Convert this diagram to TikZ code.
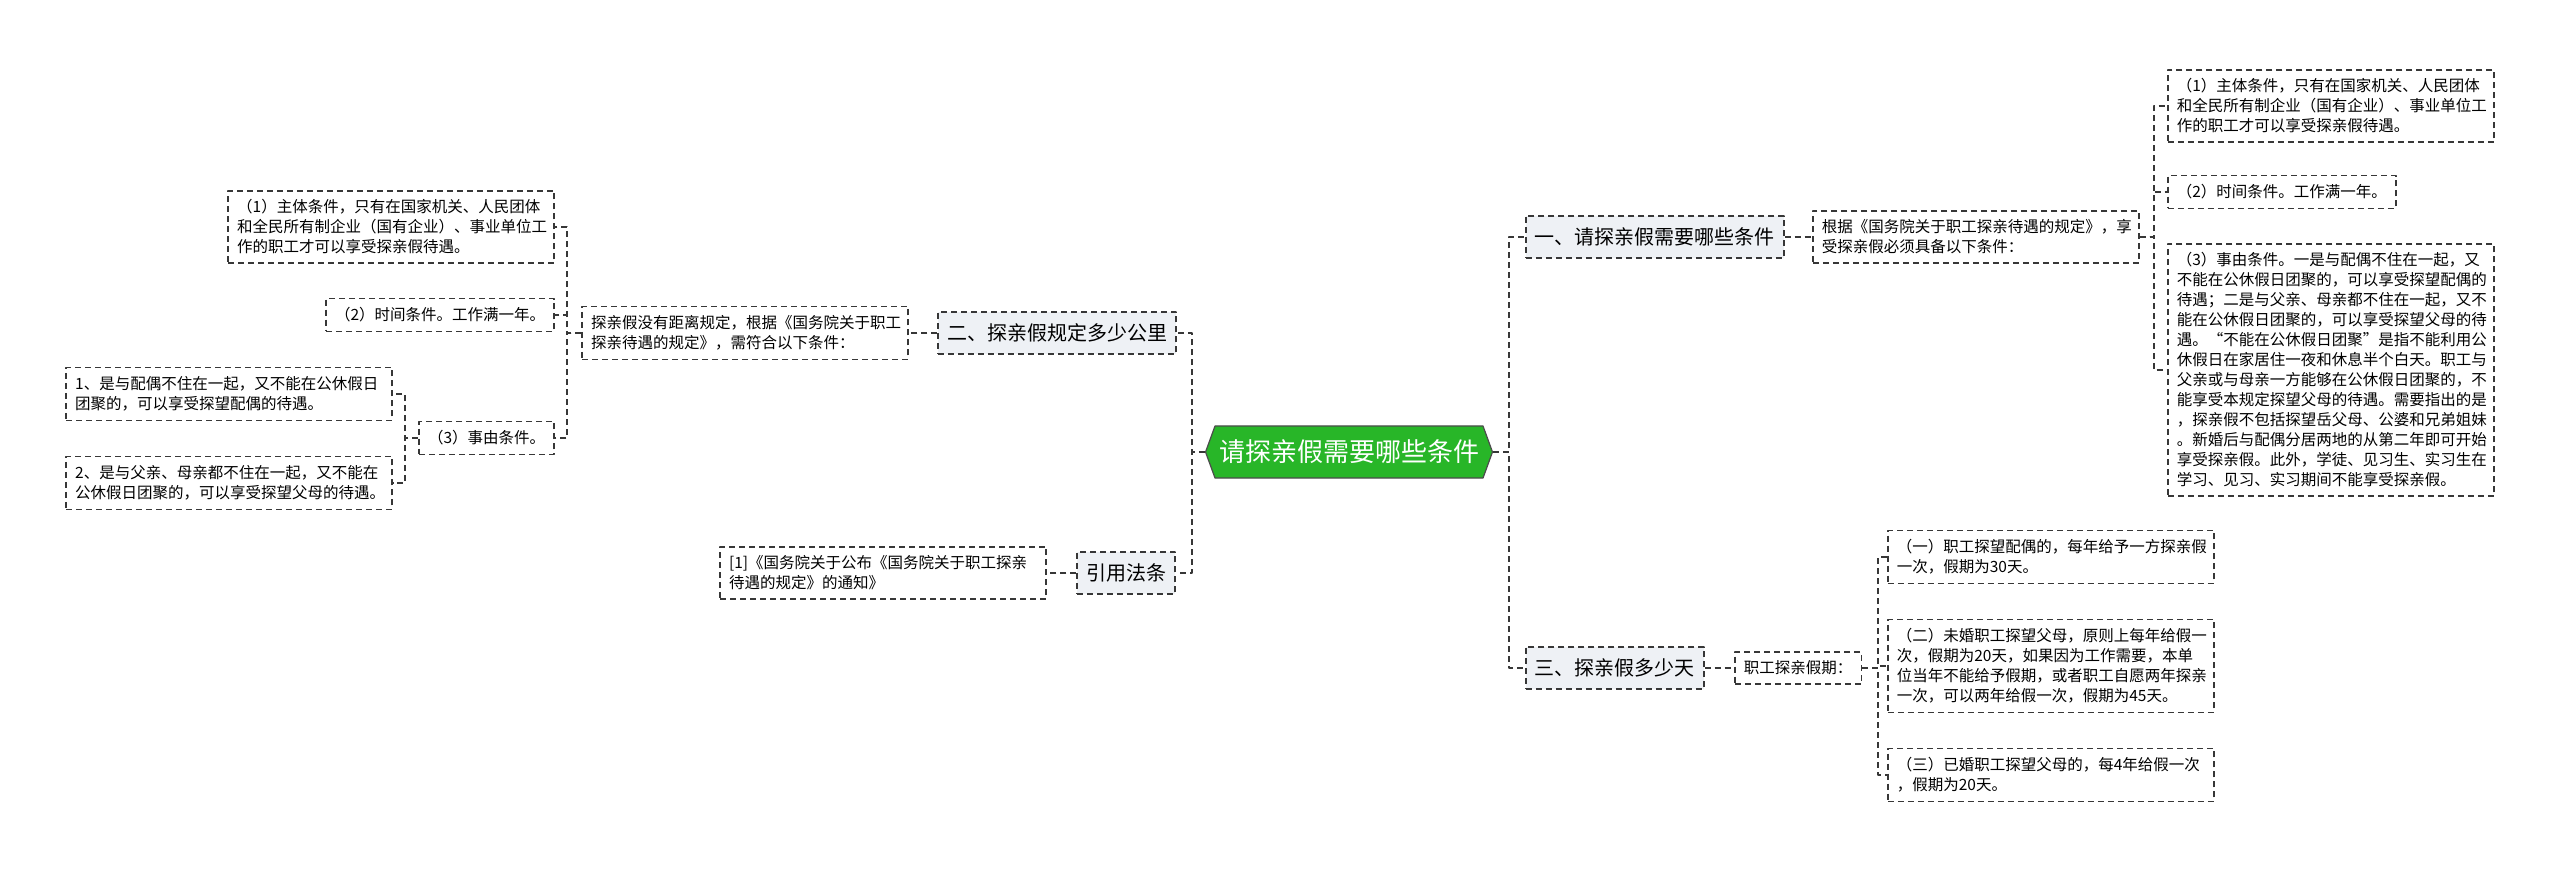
\documentclass[tikz,border=0pt]{standalone}
\usepackage{fontspec}
\newfontfamily\cjk{Noto Sans CJK SC}
\usetikzlibrary{shapes.symbols}
\definecolor{rootgreen}{RGB}{40,182,40}
\definecolor{branchgray}{RGB}{238,241,245}
\definecolor{linegray}{RGB}{55,55,55}
\begin{document}
\begin{tikzpicture}[x=1pt,y=-1pt,line join=round,
	dashline/.style={draw=linegray,line width=1.7pt,dash pattern=on 6pt off 4pt},
	root/.style={signal,signal to=west and east,signal pointer angle=140,fill=rootgreen,draw=black!70,line width=1.2pt,text=white,font=\cjk\fontsize{26}{30}\selectfont,inner xsep=4pt,inner ysep=14pt},
	branch/.style={dashline,fill=branchgray,font=\cjk\fontsize{20}{24}\selectfont,inner xsep=9pt,inner ysep=12pt},
	leaf/.style={dashline,font=\cjk\fontsize{15.5}{20}\selectfont,align=left,inner xsep=9pt,inner ysep=9pt},
	wide/.style={leaf,text width=308pt},
	link/.style={dashline}]
	\def \picw{2560}
	\def \pich{870}
	\useasboundingbox (0,0) rectangle (\picw,\pich);
	% centre
	\node[root] (root) at (1349,452) {请探亲假需要哪些条件};
	% right side
	\node[branch,anchor=west] (tiaojian) at (1525,237) {一、请探亲假需要哪些条件};
	\node[wide,anchor=west] (genju) at (1812,237) {根据《国务院关于职工探亲待遇的规定》，享\\受探亲假必须具备以下条件：};
	\node[wide,anchor=west] (rzhuti) at (2167,106) {（1）主体条件，只有在国家机关、人民团体\\和全民所有制企业（国有企业）、事业单位工\\作的职工才可以享受探亲假待遇。};
	\node[leaf,anchor=west] (rshijian) at (2167,192) {（2）时间条件。工作满一年。};
	\node[wide,anchor=west] (rshiyou) at (2167,370) {（3）事由条件。一是与配偶不住在一起，又\\不能在公休假日团聚的，可以享受探望配偶的\\待遇；二是与父亲、母亲都不住在一起，又不\\能在公休假日团聚的，可以享受探望父母的待\\遇。“不能在公休假日团聚”是指不能利用公\\休假日在家居住一夜和休息半个白天。职工与\\父亲或与母亲一方能够在公休假日团聚的，不\\能享受本规定探望父母的待遇。需要指出的是\\，探亲假不包括探望岳父母、公婆和兄弟姐妹\\。新婚后与配偶分居两地的从第二年即可开始\\享受探亲假。此外，学徒、见习生、实习生在\\学习、见习、实习期间不能享受探亲假。};
	\node[branch,anchor=west] (duoshao) at (1525,668) {三、探亲假多少天};
	\node[leaf,anchor=west] (jiaqi) at (1734,668) {职工探亲假期：};
	\node[wide,anchor=west] (peiou) at (1887,557) {（一）职工探望配偶的，每年给予一方探亲假\\一次，假期为30天。};
	\node[wide,anchor=west] (weihun) at (1887,666) {（二）未婚职工探望父母，原则上每年给假一\\次，假期为20天，如果因为工作需要，本单\\位当年不能给予假期，或者职工自愿两年探亲\\一次，可以两年给假一次，假期为45天。};
	\node[wide,anchor=west] (yihun) at (1887,775) {（三）已婚职工探望父母的，每4年给假一次\\，假期为20天。};
	% left side
	\node[branch,anchor=east] (gongli) at (1177,333) {二、探亲假规定多少公里};
	\node[wide,anchor=east] (juli) at (909,333) {探亲假没有距离规定，根据《国务院关于职工\\探亲待遇的规定》，需符合以下条件：};
	\node[wide,anchor=east] (lzhuti) at (555,227) {（1）主体条件，只有在国家机关、人民团体\\和全民所有制企业（国有企业）、事业单位工\\作的职工才可以享受探亲假待遇。};
	\node[leaf,anchor=east] (lshijian) at (555,315) {（2）时间条件。工作满一年。};
	\node[leaf,anchor=east] (lshiyou) at (555,438) {（3）事由条件。};
	\node[wide,anchor=east] (shiyoua) at (393,394) {1、是与配偶不住在一起，又不能在公休假日\\团聚的，可以享受探望配偶的待遇。};
	\node[wide,anchor=east] (shiyoub) at (393,483) {2、是与父亲、母亲都不住在一起，又不能在\\公休假日团聚的，可以享受探望父母的待遇。};
	\node[branch,anchor=east] (fatiao) at (1176,573) {引用法条};
	\node[wide,anchor=east] (tongzhi) at (1047,573) {[1]《国务院关于公布《国务院关于职工探亲\\待遇的规定》的通知》};
	% connectors
	\draw[link] (root.east) -- ++(16,0) |- (tiaojian.west);
	\draw[link] (root.east) -- ++(16,0) |- (duoshao.west);
	\draw[link] (root.west) -- ++(-13,0) |- (gongli.east);
	\draw[link] (root.west) -- ++(-13,0) |- (fatiao.east);
	\draw[link] (tiaojian.east) -- (genju.west);
	\draw[link] (genju.east) -- ++(14,0) |- (rzhuti.west);
	\draw[link] (genju.east) -- ++(14,0) |- (rshijian.west);
	\draw[link] (genju.east) -- ++(14,0) |- (rshiyou.west);
	\draw[link] (duoshao.east) -- (jiaqi.west);
	\draw[link] (jiaqi.east) -- ++(16,0) |- (peiou.west);
	\draw[link] (jiaqi.east) -- ++(16,0) |- (weihun.west);
	\draw[link] (jiaqi.east) -- ++(16,0) |- (yihun.west);
	\draw[link] (gongli.west) -- (juli.east);
	\draw[link] (juli.west) -- ++(-14,0) |- (lzhuti.east);
	\draw[link] (juli.west) -- ++(-14,0) |- (lshijian.east);
	\draw[link] (juli.west) -- ++(-14,0) |- (lshiyou.east);
	\draw[link] (lshiyou.west) -- ++(-13,0) |- (shiyoua.east);
	\draw[link] (lshiyou.west) -- ++(-13,0) |- (shiyoub.east);
	\draw[link] (fatiao.west) -- (tongzhi.east);
\end{tikzpicture}
\end{document}
